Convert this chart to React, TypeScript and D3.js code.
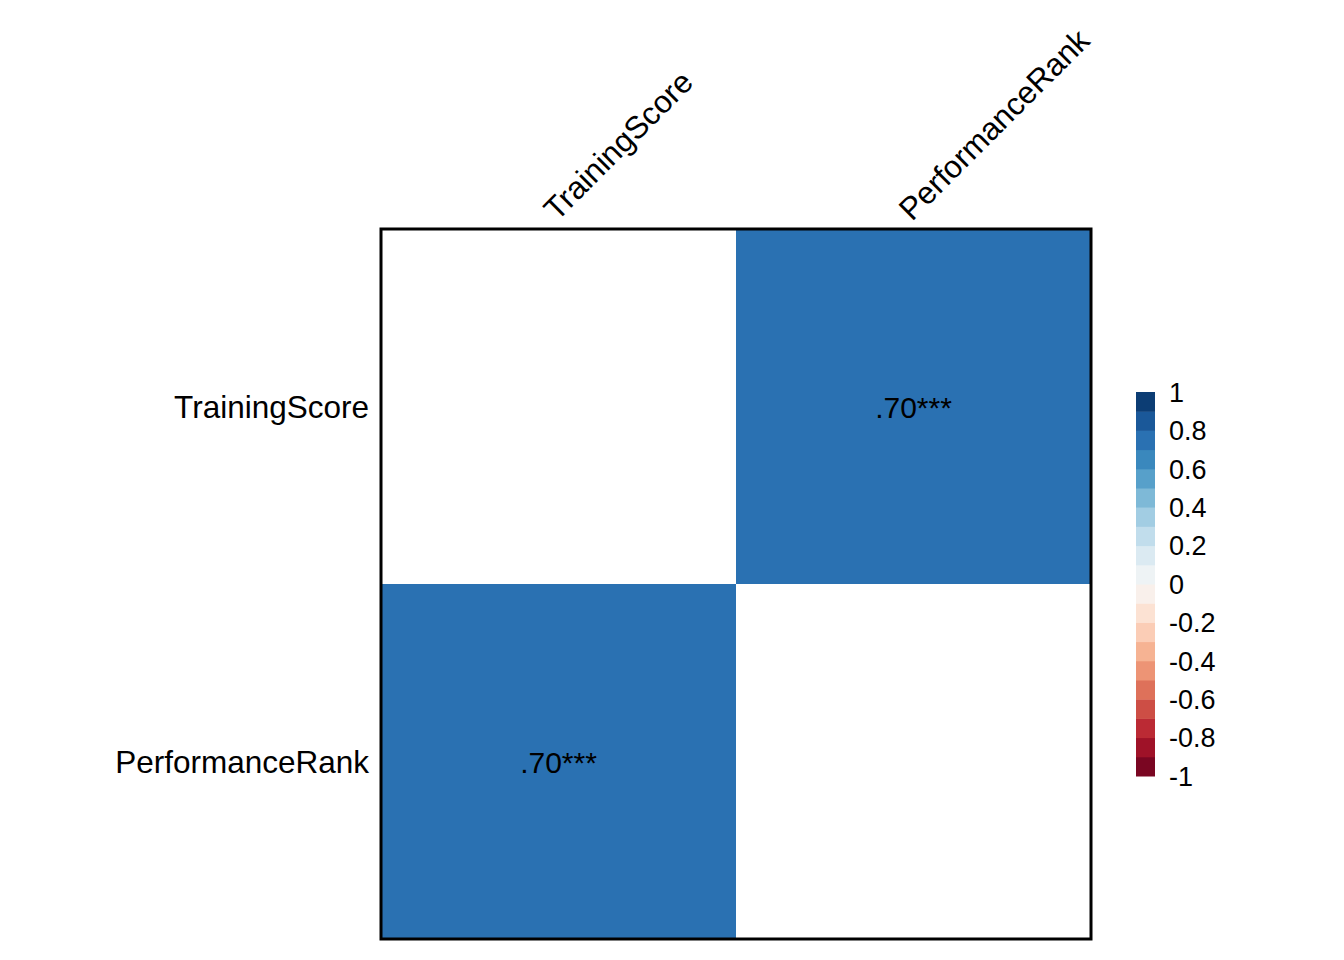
import React from "react";
import * as d3 from "d3";

const variables = ["TrainingScore", "PerformanceRank"];
const corrRow1 = [1, 0.7];
const corrRow2 = [0.7, 1];
const corrMatrix = [corrRow1, corrRow2];
const stars = [["", "***"], ["***", ""]];
const legendTicks = [1, 0.8, 0.6, 0.4, 0.2, 0, -0.2, -0.4, -0.6, -0.8, -1];
const paletteStops = ["#67001F", "#B2182B", "#D6604D", "#F4A582", "#FDDBC7", "#F7F7F7", "#D1E5F0", "#92C5DE", "#4393C3", "#2166AC", "#053061"];

const FONT = "'Liberation Sans', Arial, sans-serif";
const nBins = 20;

export default function App() {
  const W = 1344, H = 960;
  const x = d3.scaleBand<string>().domain(variables).range([381, 1091]);
  const y = d3.scaleBand<string>().domain(variables).range([229, 939]);
  const colorScale = d3
    .scaleLinear<string>()
    .domain(d3.range(11).map((i) => -1 + i * 0.2))
    .range(paletteStops)
    .interpolate(d3.interpolateRgb);
  const binOf = (v: number) => Math.min(nBins - 1, Math.max(0, Math.floor(((v + 1) / 2) * nBins + 1e-9)));
  const binColor = (b: number) => colorScale(-1 + (b + 0.5) * (2 / nBins));
  const legY = d3.scaleLinear().domain([-1, 1]).range([776, 392]);
  const bins = d3.range(nBins);
  const fmt = (v: number) => {
    const s = v.toFixed(2);
    return s.replace(/^0/, "").replace(/^-0/, "-");
  };
  const bw = x.bandwidth();

  return (
    <svg width={W} height={H} style={{ display: "block", position: "absolute", left: 0, top: 0 }} fontFamily={FONT}>
      <rect width={W} height={H} fill="#fff" />
      {variables.map((rv, i) =>
        variables.map((cv, j) => {
          const v = corrMatrix[i][j];
          const diag = i === j;
          return (
            <g key={rv + cv}>
              <rect x={x(cv)} y={y(rv)} width={bw} height={y.bandwidth()} fill={diag ? "#ffffff" : binColor(binOf(v))} />
              {!diag && (
                <text
                  x={(x(cv) as number) + bw / 2}
                  y={(y(rv) as number) + y.bandwidth() / 2 + 11}
                  textAnchor="middle"
                  fontSize={30}
                  fill="#000"
                >
                  {fmt(v) + stars[i][j]}
                </text>
              )}
            </g>
          );
        })
      )}
      <rect x={381} y={229} width={710} height={710} fill="none" stroke="#000" strokeWidth={3} />
      {variables.map((rv) => (
        <text key={"r" + rv} x={369} y={(y(rv) as number) + y.bandwidth() / 2 + 11} textAnchor="end" fontSize={31.5} fill="#000">
          {rv}
        </text>
      ))}
      {variables.map((cv) => {
        const ax = (x(cv) as number) + bw / 2 - 1.5;
        const ay = 222;
        return (
          <text key={"c" + cv} x={ax} y={ay} transform={`rotate(-45 ${ax} ${ay})`} textAnchor="start" fontSize={31.5} fill="#000">
            {cv}
          </text>
        );
      })}
      {bins.map((b) => {
        const lo = -1 + b * (2 / nBins);
        const hi = lo + 2 / nBins;
        return (
          <rect key={"b" + b} x={1136} y={legY(hi)} width={19} height={legY(lo) - legY(hi) + 0.5} fill={binColor(b)} />
        );
      })}
      {legendTicks.map((t) => (
        <text key={"t" + t} x={1169} y={legY(t) + 9.8} fontSize={27} fill="#000">
          {String(t)}
        </text>
      ))}
    </svg>
  );
}
